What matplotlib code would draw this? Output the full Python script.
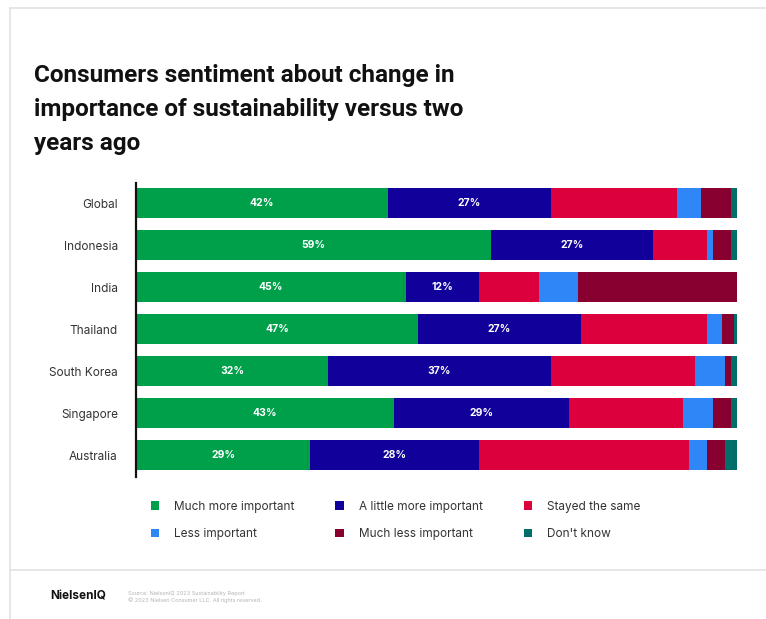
import matplotlib
matplotlib.use("Agg")
import matplotlib.pyplot as plt
from matplotlib.lines import Line2D
from matplotlib.patches import Patch
import numpy as np

plt.rcParams["font.family"] = ["Inter", "DejaVu Sans"]

countries = ["Global", "Indonesia", "India", "Thailand", "South Korea", "Singapore", "Australia"]
categories = ["Much more important", "A little more important", "Stayed the same",
              "Less important", "Much less important", "Don't know"]
much_more = [42, 59, 45, 47, 32, 43, 29]
little_more = [27, 27, 12, 27, 37, 29, 28]
same = [21, 9, 10, 21, 24, 19, 35]
less = [4, 1, 6.5, 2.5, 5, 5, 3]
much_less = [5, 3, 26.5, 2, 1, 3, 3]
dont_know = [1, 1, 0, 0.5, 1, 1, 2]
colors = ["#00a04b", "#11009a", "#dc003c", "#2f86f6", "#88002f", "#006e69"]

series = [much_more, little_more, same, less, much_less, dont_know]

fig = plt.figure(figsize=(7.66, 6.19), dpi=100)
ax = fig.add_axes([136 / 766, 1 - 477 / 619, 601 / 766, 294 / 619])

y = np.arange(len(countries))
left = np.zeros(len(countries))
handles = []
for i, (vals, col) in enumerate(zip(series, colors)):
    vals = np.array(vals, dtype=float)
    bars = ax.barh(y, vals, left=left, height=0.72, color=col, edgecolor="none")
    handles.append(Patch(facecolor=col, label=categories[i]))
    if i < 2:
        for b, v in zip(bars, vals):
            ax.text(b.get_x() + b.get_width() / 2, b.get_y() + b.get_height() / 2,
                    f"{v:.0f}%", ha="center", va="center", color="white",
                    fontsize=7.5, fontweight="bold")
    left += vals

ax.set_xlim(0, 100)
ax.set_ylim(6.52, -0.48)
ax.set_yticks(y)
ax.set_yticklabels(countries, fontsize=8.5, color="#333333")
ax.tick_params(axis="y", length=0, pad=13)
ax.set_xticks([])
for s in ["top", "right", "bottom"]:
    ax.spines[s].set_visible(False)
ax.spines["left"].set_linewidth(1.6)
ax.spines["left"].set_color("#111111")

# title
fig.text(34 / 766, 1 - 64 / 619,
         "Consumers sentiment about change in\nimportance of sustainability versus two\nyears ago",
         ha="left", va="top", fontsize=17.5, fontweight="bold", color="#111111",
         linespacing=1.6, family=["Roboto", "DejaVu Sans"])

# legend (row-wise order)
order = [0, 3, 1, 4, 2, 5]
fig.legend([handles[k] for k in order], [categories[k] for k in order],
           ncol=3, loc="upper left", bbox_to_anchor=(140 / 766, 1 - 490 / 619),
           frameon=False, fontsize=8.5, handlelength=0.75, handleheight=0.75,
           handletextpad=1.25, columnspacing=3.45, labelspacing=1.3,
           labelcolor="#333333")

# card border and footer
fig.add_artist(Line2D([10 / 766, 1], [1 - 8 / 619, 1 - 8 / 619], color="#e2e2e2", lw=1.2))
fig.add_artist(Line2D([10 / 766, 10 / 766], [0, 1 - 8 / 619], color="#e2e2e2", lw=1.2))
fig.add_artist(Line2D([10 / 766, 1], [1 - 570 / 619, 1 - 570 / 619], color="#e2e2e2", lw=1.2))
fig.text(50 / 766, 1 - 597 / 619, "NielsenIQ", ha="left", va="center",
         fontsize=8.5, fontweight="bold", color="#111111")
fig.text(128 / 766, 1 - 597 / 619,
         "Source: NielsenIQ 2023 Sustainability Report\n\u00a9 2023 Nielsen Consumer LLC. All rights reserved.",
         ha="left", va="center", fontsize=4, color="#b5b5b5", linespacing=1.3)

fig.savefig("out.png", dpi=100)
